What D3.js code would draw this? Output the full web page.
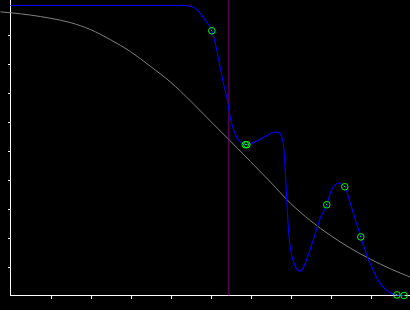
<!DOCTYPE html>
<html lang="en">
<head>
    <meta charset="UTF-8">
    <title>Curves</title>
    <style>
        html, body { margin: 0; padding: 0; background: #000; }
        svg { display: block; }
    </style>
</head>
<body>
    <div id="container"></div>
    <script src="https://d3js.org/d3.v7.min.js"></script>
    <script>
        // grey reference curve (x, y)
        const greyX = [-0.25, 0, 0.5, 1, 1.5, 2, 2.5, 3, 3.5, 4, 4.5, 5, 5.5, 6, 6.5, 7, 7.5, 8, 8.5, 9, 9.5, 10];
        const greyY = [0.978, 0.975, 0.967, 0.956, 0.941, 0.917, 0.882, 0.841, 0.790, 0.736, 0.671, 0.601,
                       0.532, 0.462, 0.391, 0.318, 0.258, 0.207, 0.163, 0.125, 0.092, 0.063];

        // blue fitted curve
        const blueX = [0, 4.375, 4.5, 4.625, 4.75, 4.875, 5.033, 5.125, 5.2, 5.325, 5.425, 5.475, 5.55, 5.675,
                       5.8, 5.8875, 6.1675, 6.375, 6.625, 6.7075, 6.7875, 6.8375, 6.875, 6.9075, 6.9425, 6.9825,
                       7.0375, 7.1, 7.175, 7.2375, 7.3, 7.375, 7.5, 7.625, 7.75, 7.9075, 8.0, 8.125, 8.2075,
                       8.2925, 8.3575, 8.5, 8.625, 8.7575, 8.85, 8.95, 9.05, 9.15, 9.25, 9.375, 9.5, 9.6575, 9.8425];
        const blueY = [1.0, 1.0, 0.997, 0.990, 0.972, 0.948, 0.913, 0.866, 0.817, 0.731, 0.672, 0.628, 0.583, 0.541,
                       0.524, 0.520, 0.533, 0.549, 0.564, 0.562, 0.545, 0.500, 0.414, 0.328, 0.241, 0.179,
                       0.134, 0.107, 0.088, 0.084, 0.091, 0.114, 0.162, 0.217, 0.269, 0.313, 0.356, 0.383, 0.388,
                       0.383, 0.375, 0.316, 0.259, 0.202, 0.162, 0.124, 0.093, 0.062, 0.040, 0.021, 0.009, 0.002, 0.0];

        // sample points (green circles)
        const ptX = [5.033, 5.87, 5.91, 7.9075, 8.3575, 8.7575, 9.66, 9.84];
        const ptY = [0.913, 0.520, 0.520, 0.313, 0.375, 0.202, 0.002, 0.0];

        // vertical marker
        const markerX = 5.46;

        const tickVals = [1, 2, 3, 4, 5, 6, 7, 8, 9];
        const yTickVals = [0.1, 0.2, 0.3, 0.4, 0.5, 0.6, 0.7, 0.8, 0.9];

        const W = 410, H = 310;

        const x = d3.scaleLinear().domain([0, 10]).range([10.5, 410.5]);
        const y = d3.scaleLinear().domain([0, 1]).range([295.5, 5.5]);

        const svg = d3.select('#container').append('svg')
            .attr('width', W).attr('height', H);

        svg.append('rect').attr('width', W).attr('height', H).attr('fill', '#000');

        // axes
        const xAxis = svg.append('g')
            .attr('transform', `translate(0, ${y(0)})`)
            .call(d3.axisBottom(x).tickValues(tickVals).tickSize(3).tickFormat(''));
        const yAxis = svg.append('g')
            .attr('transform', `translate(${x(0)}, 0)`)
            .call(d3.axisLeft(y).tickValues(yTickVals).tickSize(3).tickFormat(''));
        [xAxis, yAxis].forEach(g => {
            g.select('.domain').remove();
            g.selectAll('line').attr('stroke', '#fff').attr('shape-rendering', 'crispEdges');
        });
        svg.append('line')
            .attr('x1', x(0)).attr('x2', x(0)).attr('y1', 0).attr('y2', y(0) + 0.5)
            .attr('stroke', '#fff').attr('shape-rendering', 'crispEdges');
        svg.append('line')
            .attr('x1', x(0)).attr('x2', W).attr('y1', y(0)).attr('y2', y(0))
            .attr('stroke', '#fff').attr('shape-rendering', 'crispEdges');

        const line = d3.line()
            .x(d => x(d[0]))
            .y(d => y(d[1]))
            .curve(d3.curveMonotoneX);

        // grey curve
        svg.append('path')
            .datum(d3.zip(greyX, greyY))
            .attr('fill', 'none')
            .attr('stroke', '#808080')
            .attr('stroke-width', 1)
            .attr('d', line);

        // purple marker
        svg.append('line')
            .attr('x1', x(markerX)).attr('x2', x(markerX))
            .attr('y1', 0).attr('y2', y(0))
            .attr('stroke', '#800080')
            .attr('stroke-width', 1);

        // blue curve
        svg.append('path')
            .datum(d3.zip(blueX, blueY))
            .attr('fill', 'none')
            .attr('stroke', '#0000ff')
            .attr('stroke-width', 1.1)
            .attr('d', line);

        // points
        const pts = d3.zip(ptX, ptY);
        svg.selectAll('circle.pt').data(pts).join('circle')
            .attr('class', 'pt')
            .attr('cx', d => x(d[0]))
            .attr('cy', d => y(d[1]))
            .attr('r', 3.3)
            .attr('fill', 'none')
            .attr('stroke', '#00ff00')
            .attr('stroke-width', 1);
        svg.selectAll('rect.dot').data(pts).join('rect')
            .attr('class', 'dot')
            .attr('x', d => Math.floor(x(d[0])))
            .attr('y', d => Math.floor(y(d[1])))
            .attr('width', 1).attr('height', 1)
            .attr('fill', '#00ff00');
    </script>
</body>
</html>
